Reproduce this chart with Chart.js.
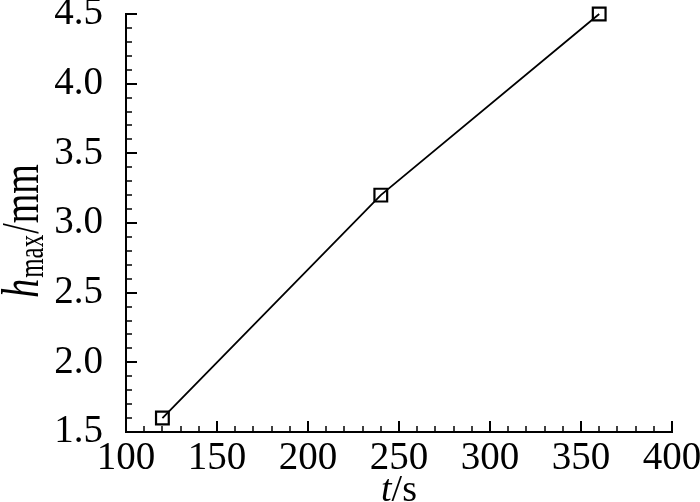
<!DOCTYPE html>
<html>
<head>
<meta charset="utf-8">
<script src="https://cdn.jsdelivr.net/npm/chart.js@4/dist/chart.umd.min.js"></script>
<style>
  body { margin: 0; background: #fff; }
  canvas { display: block; }
</style>
</head>
<body>
<canvas id="chart" width="700" height="502"></canvas>
<script>
// time (s) and max height (mm)
var times = [120, 240, 360];
var hmax = [1.6, 3.2, 4.5];

var FONT = '"Liberation Serif", "Times New Roman", serif';

// inward major/minor ticks on left and bottom axes
var inwardTicks = {
  id: 'inwardTicks',
  afterDraw: function(chart) {
    var ctx = chart.ctx, xs = chart.scales.x, ys = chart.scales.y;
    var bottom = chart.chartArea.bottom, left = chart.chartArea.left;
    ctx.save();
    ctx.strokeStyle = '#000';
    for (var v = 100; v <= 400; v += 10) {
      var major = v % 50 === 0;
      var px = Math.round(xs.getPixelForValue(v));
      ctx.lineWidth = major ? 2 : 1.5;
      ctx.beginPath();
      ctx.moveTo(px, bottom);
      ctx.lineTo(px, bottom - (major ? 11 : 6));
      ctx.stroke();
    }
    for (var i = 15; i <= 45; i++) {
      var major = i % 5 === 0;
      var py = Math.round(ys.getPixelForValue(i / 10));
      ctx.lineWidth = major ? 2 : 1.5;
      ctx.beginPath();
      ctx.moveTo(left, py);
      ctx.lineTo(left + (major ? 11 : 6), py);
      ctx.stroke();
    }
    ctx.restore();
  }
};

// axis titles with italic symbols and subscript
var axisTitles = {
  id: 'axisTitles',
  afterDraw: function(chart) {
    var ctx = chart.ctx;
    ctx.save();
    ctx.fillStyle = '#000';
    ctx.textBaseline = 'alphabetic';

    // x title: t/s
    var it = 'italic 38px ' + FONT, rm = '38px ' + FONT;
    ctx.font = it; var w1 = ctx.measureText('t').width;
    ctx.font = rm; var w2 = ctx.measureText('/s').width;
    var cx = (chart.chartArea.left + chart.chartArea.right) / 2;
    var x0 = cx - (w1 + w2) / 2, yb = 501;
    ctx.font = it; ctx.fillText('t', x0, yb);
    ctx.font = rm; ctx.fillText('/s', x0 + w1, yb);

    // y title: h_max/mm (rotated, glyphs a bit taller like the original)
    var sub = '25px ' + FONT;
    ctx.font = it; var a = ctx.measureText('h').width;
    ctx.font = sub; var b = ctx.measureText('max').width;
    ctx.font = rm; var c = ctx.measureText('/mm').width;
    var total = a + b + c + 2;
    ctx.translate(38, 231);
    ctx.rotate(-Math.PI / 2);
    ctx.scale(1, 1.4);
    var s = -total / 2;
    ctx.font = it; ctx.fillText('h', s, 0);
    ctx.font = sub; ctx.fillText('max', s + a + 1, 3.5);
    ctx.font = rm; ctx.fillText('/mm', s + a + b + 2, 0);
    ctx.restore();
  }
};

new Chart(document.getElementById('chart'), {
  type: 'scatter',
  data: {
    datasets: [{
      data: times.map(function(t, i) { return { x: t, y: hmax[i] }; }),
      showLine: true,
      clip: false,
      borderColor: '#000',
      borderWidth: 1.8,
      pointStyle: 'rect',
      pointRadius: 9,
      pointHoverRadius: 9,
      pointBorderWidth: 2.2,
      pointBorderColor: '#000',
      pointBackgroundColor: 'rgba(0,0,0,0)'
    }]
  },
  options: {
    responsive: false,
    animation: false,
    events: [],
    layout: { padding: { top: 14, right: 28, left: 0, bottom: 0 } },
    plugins: { legend: { display: false }, tooltip: { enabled: false } },
    scales: {
      x: {
        type: 'linear',
        min: 100, max: 400,
        border: { display: true, color: '#000', width: 2 },
        grid: { display: true, drawOnChartArea: false, drawTicks: false, color: 'rgba(0,0,0,0)' },
        ticks: { stepSize: 50, color: '#000', padding: 3, maxRotation: 0, font: { family: FONT, size: 39 } },
        afterFit: function(s) { s.height = 70; s.paddingLeft = 0; s.paddingRight = 0; }
      },
      y: {
        type: 'linear',
        min: 1.5, max: 4.5,
        border: { display: true, color: '#000', width: 2 },
        grid: { display: true, drawOnChartArea: false, drawTicks: false, color: 'rgba(0,0,0,0)' },
        ticks: {
          stepSize: 0.5, color: '#000', padding: 23, font: { family: FONT, size: 39 },
          callback: function(v) { return v.toFixed(1); }
        },
        afterFit: function(s) { s.width = 126; s.paddingTop = 0; s.paddingBottom = 0; }
      }
    }
  },
  plugins: [inwardTicks, axisTitles]
});
</script>
</body>
</html>
